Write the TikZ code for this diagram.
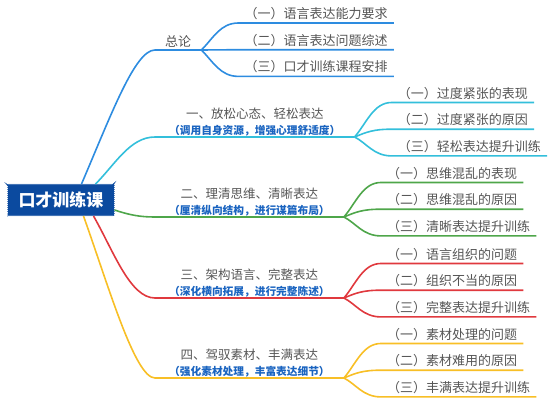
\documentclass[tikz,border=0pt]{standalone}
\usepackage{fontspec}
\setmainfont{Noto Sans CJK SC}
\usepackage{xcolor}
\usetikzlibrary{positioning,decorations.pathmorphing}
\definecolor{rootblue}{HTML}{0B4A9F}
\definecolor{lblue}{HTML}{2D8CE0}
\definecolor{lcyan}{HTML}{33BFDB}
\definecolor{lgreen}{HTML}{4EA64A}
\definecolor{lred}{HTML}{E0393E}
\definecolor{lyellow}{HTML}{F8BF26}
\definecolor{subblue}{HTML}{1A64C0}
\definecolor{txtgray}{HTML}{555555}
\newcommand{\subt}[1]{{\fontsize{10.7}{16}\selectfont\bfseries\color{subblue}#1}}

\begin{document}
\begin{tikzpicture}[x=1pt,y=1pt,node distance=26.7pt]
\tikzstyle{root}=[fill=rootblue, draw=rootblue, line width=1pt, text=white, font=\bfseries\fontsize{17}{20}\selectfont, minimum width=106pt, minimum height=31pt, decorate, decoration={bumps, segment length=4pt, amplitude=1.2pt}]
\tikzstyle{topic}=[anchor=south west, align=center, text=txtgray, font=\fontsize{12.5}{16}\selectfont, inner xsep=14pt, inner ysep=1pt]
\tikzstyle{leaf}=[anchor=south west, text=txtgray, font=\fontsize{13}{15}\selectfont, inner xsep=6pt, inner ysep=3pt]
\tikzstyle{br}=[line width=1.6pt]
\useasboundingbox (0,0) rectangle (555,-402);

\node (root) [root] at (61,-200) {口才训练课};

\node (t0) [topic, inner xsep=10pt, inner ysep=2.5pt, font=\fontsize{13}{15}\selectfont] at (155,-50) {总论};
\node (t1) [topic] at (155,-137) {一、放松心态、轻松表达\\\subt{（调用自身资源，增强心理舒适度）}};
\node (t2) [topic] at (155,-217) {二、理清思维、清晰表达\\\subt{（厘清纵向结构，进行谋篇布局）}};
\node (t3) [topic] at (155,-298) {三、架构语言、完整表达\\\subt{（深化横向拓展，进行完整陈述）}};
\node (t4) [topic] at (155,-378) {四、驾驭素材、丰满表达\\\subt{（强化素材处理，丰富表达细节）}};

\node (a1) [leaf, above right=27pt and 37pt of t0.south east] {（一）语言表达能力要求};
\node (a2) [leaf, below=of a1.south west, anchor=south west] {（二）语言表达问题综述};
\node (a3) [leaf, below=of a2.south west, anchor=south west] {（三）口才训练课程安排};

\node (b1) [leaf, above right=34.5pt and 37pt of t1.south east] {（一）过度紧张的表现};
\node (b2) [leaf, below=of b1.south west, anchor=south west] {（二）过度紧张的原因};
\node (b3) [leaf, below=of b2.south west, anchor=south west] {（三）轻松表达提升训练};

\node (c1) [leaf, above right=34.5pt and 37pt of t2.south east] {（一）思维混乱的表现};
\node (c2) [leaf, below=of c1.south west, anchor=south west] {（二）思维混乱的原因};
\node (c3) [leaf, below=of c2.south west, anchor=south west] {（三）清晰表达提升训练};

\node (d1) [leaf, above right=34.5pt and 37pt of t3.south east] {（一）语言组织的问题};
\node (d2) [leaf, below=of d1.south west, anchor=south west] {（二）组织不当的原因};
\node (d3) [leaf, below=of d2.south west, anchor=south west] {（三）完整表达提升训练};

\node (e1) [leaf, above right=34.5pt and 37pt of t4.south east] {（一）素材处理的问题};
\node (e2) [leaf, below=of e1.south west, anchor=south west] {（二）素材难用的原因};
\node (e3) [leaf, below=of e2.south west, anchor=south west] {（三）丰满表达提升训练};

% main branches
\draw[br, lblue] ([xshift=-33pt]root.north east) .. controls +(30,70) and +(-20,0) .. (t0.south west) -- (t0.south east);
\draw[br, lcyan] ([xshift=-19pt]root.north east) .. controls +(20,20) and +(-25,0) .. (t1.south west) -- (t1.south east);
\draw[br, lgreen] ([yshift=-10pt]root.east) .. controls +(15,-5) and +(-15,0) .. (t2.south west) -- (t2.south east);
\draw[br, lred] ([xshift=-21pt]root.south east) .. controls +(20,-35) and +(-25,0) .. (t3.south west) -- (t3.south east);
\draw[br, lyellow] ([xshift=-31pt]root.south east) .. controls +(25,-70) and +(-20,0) .. (t4.south west) -- (t4.south east);

\draw[br, lblue] (t0.south east) .. controls +(12,12) and +(-18,0) .. (a1.south west) -- (a1.south east);
\draw[br, lblue] (t0.south east) -- (a2.south west) -- (a2.south east);
\draw[br, lblue] (t0.south east) .. controls +(12,-12) and +(-18,0) .. (a3.south west) -- (a3.south east);

\draw[br, lcyan] (t1.south east) .. controls +(12,14) and +(-18,0) .. (b1.south west) -- (b1.south east);
\draw[br, lcyan] (t1.south east) .. controls +(12,5) and +(-18,0) .. (b2.south west) -- (b2.south east);
\draw[br, lcyan] (t1.south east) .. controls +(12,-6) and +(-18,0) .. (b3.south west) -- (b3.south east);

\draw[br, lgreen] (t2.south east) .. controls +(12,14) and +(-18,0) .. (c1.south west) -- (c1.south east);
\draw[br, lgreen] (t2.south east) .. controls +(12,5) and +(-18,0) .. (c2.south west) -- (c2.south east);
\draw[br, lgreen] (t2.south east) .. controls +(12,-6) and +(-18,0) .. (c3.south west) -- (c3.south east);

\draw[br, lred] (t3.south east) .. controls +(12,14) and +(-18,0) .. (d1.south west) -- (d1.south east);
\draw[br, lred] (t3.south east) .. controls +(12,5) and +(-18,0) .. (d2.south west) -- (d2.south east);
\draw[br, lred] (t3.south east) .. controls +(12,-6) and +(-18,0) .. (d3.south west) -- (d3.south east);

\draw[br, lyellow] (t4.south east) .. controls +(12,14) and +(-18,0) .. (e1.south west) -- (e1.south east);
\draw[br, lyellow] (t4.south east) .. controls +(12,5) and +(-18,0) .. (e2.south west) -- (e2.south east);
\draw[br, lyellow] (t4.south east) .. controls +(12,-6) and +(-18,0) .. (e3.south west) -- (e3.south east);
\end{tikzpicture}
\end{document}
